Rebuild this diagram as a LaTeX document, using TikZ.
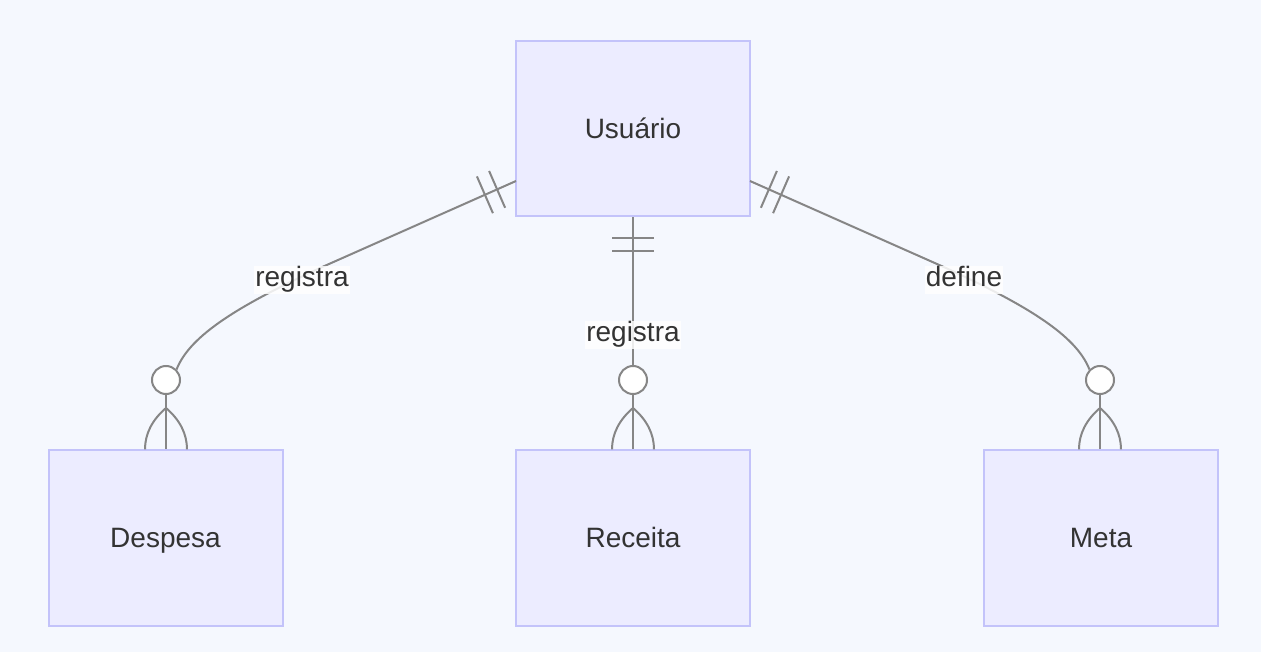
\documentclass[tikz,border=0pt]{standalone}
\usepackage{fontspec}
\setmainfont{Liberation Sans}
\usetikzlibrary{calc}
\definecolor{bgc}{HTML}{F5F8FE}
\definecolor{boxfill}{HTML}{ECECFF}
\definecolor{boxdraw}{HTML}{C3C3FA}
\definecolor{linec}{HTML}{868686}
\definecolor{txt}{HTML}{333333}
\tikzset{
  entity/.style={draw=boxdraw, fill=boxfill, line width=1.5pt, minimum width=175.5pt, minimum height=131.5pt, inner sep=0pt, text=txt, font=\fontsize{21}{25}\selectfont, text height=19pt, text depth=4.5pt},
  rel/.style={draw=linec, line width=1.5pt},
  lbl/.style={fill=white, fill opacity=0.85, text opacity=1, text=txt, inner sep=1pt, font=\fontsize{21}{25}\selectfont, text height=15pt, text depth=4.5pt},
  ring/.style={circle, draw=linec, fill=white, line width=1.5pt, minimum size=21pt, inner sep=0pt}
}
\begin{document}
\begin{tikzpicture}[x=0.75pt, y=-0.75pt]
\fill[bgc] (0,0) rectangle (1261,652);
\useasboundingbox (0,0) rectangle (1261,652);

\node[entity] (usu) at (633,128.5) {Usuário};
\node[entity] (desp) at (165.5,538) {Despesa};
\node[entity] (rec) at (633,538) {Receita};
\node[entity] (meta) at (1101,538) {Meta};

% circles
\node[ring] (c1) at (166,380) {};
\node[ring] (c2) at (633,380) {};
\node[ring] (c3) at (1100,380) {};

% attach points
\coordinate (uL) at (516,181);
\coordinate (uR) at (750,181);
\coordinate (a1) at (166,408);
\coordinate (a2) at (633,408);
\coordinate (a3) at (1100,408);

% main connectors
\draw[rel] (uL) -- (320,268) .. controls (240,305) and (190,335) .. (c1.north east);
\draw[rel] (usu.south) -- (c2.north);
\draw[rel] (uR) -- (946,268) .. controls (1026,305) and (1076,335) .. (c3.north west);

% labels
\node[lbl] (l1) at (302,280) {registra};
\node[lbl] (l2) at (633,335) {registra};
\node[lbl] (l3) at (964,280) {define};

% double bars (one)
\draw[rel] ($(uL)!15.5pt!(320,268)$) ++(-0.4*20, -0.92*20) -- ++(0.8*20, 1.84*20);
\draw[rel] ($(uL)!25.5pt!(320,268)$) ++(-0.4*20, -0.92*20) -- ++(0.8*20, 1.84*20);
\draw[rel] ($(uR)!15.5pt!(946,268)$) ++(0.4*20, -0.92*20) -- ++(-0.8*20, 1.84*20);
\draw[rel] ($(uR)!25.5pt!(946,268)$) ++(0.4*20, -0.92*20) -- ++(-0.8*20, 1.84*20);
\draw[rel] (612,238) -- (654,238);
\draw[rel] (612,251) -- (654,251);

% crow's feet (zero or many)
\draw[rel] (c1.south) -- (a1) -- (desp.north -| a1);
\draw[rel] (a1) .. controls (152,420) and (145,434) .. ($(desp.north -| a1)+(-21,0)$);
\draw[rel] (a1) .. controls (180,420) and (187,434) .. ($(desp.north -| a1)+(21,0)$);

\draw[rel] (c2.south) -- (a2) -- (rec.north);
\draw[rel] (a2) .. controls (619,420) and (612,434) .. ($(rec.north)+(-21,0)$);
\draw[rel] (a2) .. controls (647,420) and (654,434) .. ($(rec.north)+(21,0)$);

\draw[rel] (c3.south) -- (a3) -- (meta.north -| a3);
\draw[rel] (a3) .. controls (1086,420) and (1079,434) .. ($(meta.north -| a3)+(-21,0)$);
\draw[rel] (a3) .. controls (1114,420) and (1121,434) .. ($(meta.north -| a3)+(21,0)$);
\end{tikzpicture}
\end{document}
